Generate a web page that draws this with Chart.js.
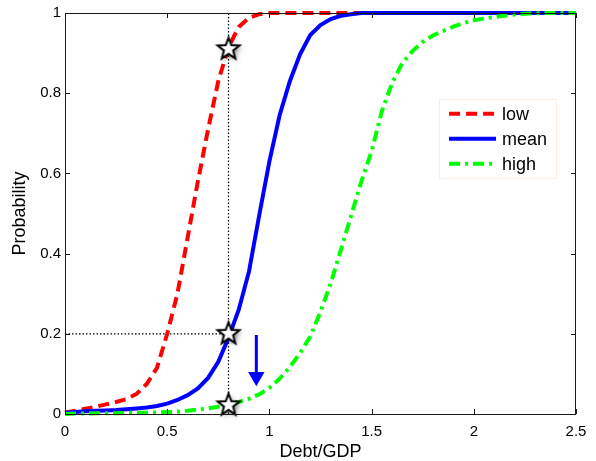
<!DOCTYPE html>
<html>
<head>
<meta charset="utf-8">
<script src="https://cdn.jsdelivr.net/npm/chart.js@4/dist/chart.umd.min.js"></script>
<style>
  html, body { margin: 0; padding: 0; background: #fff; }
  #wrap { width: 596px; height: 461px; }
</style>
</head>
<body>
<div id="wrap"><canvas id="probChart" width="596" height="461"></canvas></div>
<script>
// debt/GDP grid
const debtGdp = [
  0, 0.05, 0.1, 0.15, 0.2, 0.25, 0.3, 0.35, 0.4, 0.45,
  0.5, 0.55, 0.6, 0.65, 0.7, 0.75, 0.8, 0.85, 0.9, 0.95,
  1, 1.05, 1.1, 1.15, 1.2, 1.25, 1.3, 1.35, 1.4, 1.45,
  1.5, 1.55, 1.6, 1.65, 1.7, 1.75, 1.8, 1.85, 1.9, 1.95,
  2, 2.05, 2.1, 2.15, 2.2, 2.25, 2.3, 2.35, 2.4, 2.45, 2.5
];
const probLow = [
  0.003, 0.008, 0.013, 0.018, 0.024, 0.030, 0.037, 0.050, 0.075, 0.115,
  0.200, 0.300, 0.440, 0.580, 0.710, 0.830, 0.915, 0.965, 0.988, 0.997,
  1, 1, 1, 1, 1, 1, 1, 1, 1, 1,
  1, 1, 1, 1, 1, 1, 1, 1, 1, 1,
  1, 1, 1, 1, 1, 1, 1, 1, 1, 1, 1
];
const probMean = [
  0.003, 0.005, 0.007, 0.008, 0.009, 0.010, 0.012, 0.014, 0.016, 0.020,
  0.026, 0.035, 0.047, 0.064, 0.090, 0.130, 0.190, 0.260, 0.355, 0.495,
  0.630, 0.745, 0.830, 0.897, 0.945, 0.970, 0.985, 0.993, 0.997, 1,
  1, 1, 1, 1, 1, 1, 1, 1, 1, 1,
  1, 1, 1, 1, 1, 1, 1, 1, 1, 1, 1
];
const probHigh = [
  0.000, 0.001, 0.001, 0.002, 0.002, 0.002, 0.003, 0.003, 0.003, 0.004,
  0.005, 0.006, 0.008, 0.011, 0.014, 0.018, 0.023, 0.030, 0.038, 0.049,
  0.065, 0.088, 0.117, 0.152, 0.193, 0.255, 0.326, 0.410, 0.495, 0.580,
  0.655, 0.755, 0.825, 0.875, 0.905, 0.928, 0.944, 0.955, 0.966, 0.975,
  0.982, 0.986, 0.990, 0.993, 0.996, 0.998, 0.999, 1, 1, 1, 1
];

// annotations
const markX = 0.8;
const starY = [0.91, 0.2, 0.022];
const guideY = 0.2;
const arrowX = 0.936;
const arrowTop = 0.197;
const arrowHead = 0.093;

const xTicks = [0, 0.5, 1, 1.5, 2, 2.5];
const yTicks = [0, 0.2, 0.4, 0.6, 0.8, 1];

const FONT = "'Liberation Sans', Arial, sans-serif";

function pts(ys) {
  return debtGdp.map((x, i) => ({ x: x, y: ys[i] }));
}

function makeStar() {
  const s = 32;
  const cv = document.createElement('canvas');
  cv.width = s; cv.height = s;
  const g = cv.getContext('2d');
  const cx = s / 2, cy = s / 2, R = 11.5, r = 4.8;
  g.beginPath();
  for (let k = 0; k < 10; k++) {
    const rad = k % 2 === 0 ? R : r;
    const a = -Math.PI / 2 + k * Math.PI / 5;
    const px = cx + rad * Math.cos(a), py = cy + rad * Math.sin(a);
    if (k === 0) g.moveTo(px, py); else g.lineTo(px, py);
  }
  g.closePath();
  g.shadowColor = 'rgba(0,0,0,0.5)';
  g.shadowBlur = 5;
  g.shadowOffsetX = 2;
  g.shadowOffsetY = 2;
  g.fillStyle = '#fff';
  g.fill();
  g.shadowColor = 'transparent';
  g.lineWidth = 2;
  g.lineJoin = 'miter';
  g.strokeStyle = '#000';
  g.stroke();
  return cv;
}

// box around the axes with inward ticks, like the original figure
const frame = {
  id: 'frame',
  afterDatasetsDraw(chart) {
    const { ctx, chartArea: a, scales } = chart;
    ctx.save();
    ctx.strokeStyle = '#1a1a1a';
    ctx.lineWidth = 1;
    ctx.strokeRect(a.left + 0.5, a.top + 0.5, a.right - a.left - 1, a.bottom - a.top);
    ctx.beginPath();
    xTicks.forEach(v => {
      const p = Math.round(scales.x.getPixelForValue(v)) + 0.5;
      ctx.moveTo(p, a.bottom); ctx.lineTo(p, a.bottom - 5);
      ctx.moveTo(p, a.top); ctx.lineTo(p, a.top + 5);
    });
    yTicks.forEach(v => {
      const p = Math.round(scales.y.getPixelForValue(v)) + 0.5;
      ctx.moveTo(a.left, p); ctx.lineTo(a.left + 5, p);
      ctx.moveTo(a.right, p); ctx.lineTo(a.right - 5, p);
    });
    ctx.stroke();
    ctx.restore();
  }
};

const boxLegend = {
  id: 'boxLegend',
  afterDraw(chart) {
    const { ctx, scales } = chart;
    const left = scales.x.getPixelForValue(1.83);
    const top = scales.y.getPixelForValue(0.786);
    const w = 117, h = 79;
    ctx.save();
    ctx.fillStyle = '#fff';
    ctx.fillRect(left, top, w, h);
    ctx.strokeStyle = '#fbeee2';
    ctx.lineWidth = 1;
    ctx.strokeRect(left + 0.5, top + 0.5, w, h);
    ctx.font = '18px ' + FONT;
    ctx.textBaseline = 'middle';
    ctx.fillStyle = '#000';
    chart.data.datasets.slice(0, 3).forEach((ds, i) => {
      const y = top + 15 + i * 25;
      ctx.beginPath();
      ctx.setLineDash(ds.borderDash || []);
      ctx.strokeStyle = ds.borderColor;
      ctx.lineWidth = ds.borderWidth;
      ctx.moveTo(left + 10, y);
      ctx.lineTo(left + 57, y);
      ctx.stroke();
      ctx.setLineDash([]);
      ctx.fillText(ds.label, left + 63, y + 1);
    });
    ctx.restore();
  }
};

const star = makeStar();

new Chart(document.getElementById('probChart'), {
  type: 'line',
  data: {
    datasets: [
      { label: 'low', data: pts(probLow), borderColor: '#ff0000', borderWidth: 4,
        borderDash: [11, 6], pointRadius: 0, tension: 0, clip: 6, order: 4 },
      { label: 'mean', data: pts(probMean), borderColor: '#0000ff', borderWidth: 4,
        pointRadius: 0, tension: 0, clip: 6, order: 3 },
      { label: 'high', data: pts(probHigh), borderColor: '#00ff00', borderWidth: 4,
        borderDash: [11, 5, 3, 5], pointRadius: 0, tension: 0, clip: 6, order: 2 },
      { label: 'guideV', data: [{ x: markX, y: 0 }, { x: markX, y: 1 }], borderColor: '#000',
        borderWidth: 1.2, borderDash: [1.5, 2], pointRadius: 0, order: 6 },
      { label: 'guideH', data: [{ x: 0, y: guideY }, { x: markX, y: guideY }], borderColor: '#000',
        borderWidth: 1.2, borderDash: [1.5, 2], pointRadius: 0, order: 6 },
      { label: 'arrow', data: [{ x: arrowX, y: arrowTop }, { x: arrowX, y: arrowHead }],
        borderColor: '#0000ff', backgroundColor: '#0000ff', borderWidth: 3,
        pointRadius: [0, 6.5], pointStyle: 'triangle', pointRotation: 180, order: 1 },
      { label: 'stars', data: starY.map(y => ({ x: markX, y: y })), showLine: false,
        pointStyle: star, pointRadius: 12, clip: false, order: 0 }
    ]
  },
  options: {
    responsive: false,
    animation: false,
    layout: { padding: { top: 13, right: 20, left: 0, bottom: 0 } },
    plugins: { legend: { display: false }, tooltip: { enabled: false } },
    scales: {
      x: {
        type: 'linear', min: 0, max: 2.5,
        afterBuildTicks: s => { s.ticks = xTicks.map(v => ({ value: v })); },
        afterFit: s => { s.height = 47; },
        grid: { display: false, drawTicks: false },
        border: { display: false },
        ticks: { color: '#000', padding: 9, font: { family: FONT, size: 15 }, callback: v => String(v) },
        title: { display: true, text: 'Debt/GDP', color: '#000', padding: { top: 0, bottom: 0 },
          font: { family: FONT, size: 18, lineHeight: 1 } }
      },
      y: {
        type: 'linear', min: 0, max: 1,
        afterBuildTicks: s => { s.ticks = yTicks.map(v => ({ value: v })); },
        afterFit: s => { s.width = 65; },
        grid: { display: false, drawTicks: false },
        border: { display: false },
        ticks: { color: '#000', padding: 4, font: { family: FONT, size: 15 }, callback: v => String(v) },
        title: { display: true, text: 'Probability', color: '#000', padding: { top: 11, bottom: 0 },
          font: { family: FONT, size: 18, lineHeight: 1 } }
      }
    }
  },
  plugins: [frame, boxLegend]
});
</script>
</body>
</html>
